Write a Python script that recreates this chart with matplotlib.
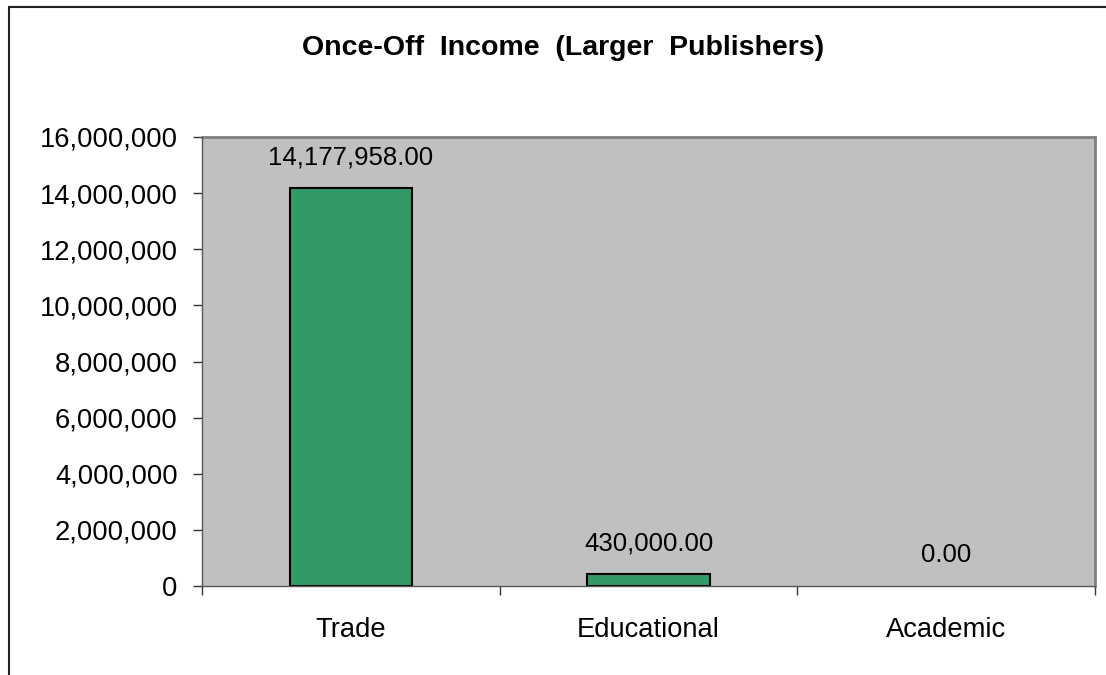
import numpy as np
import matplotlib.pyplot as plt
from matplotlib.patches import Rectangle
from matplotlib.ticker import FuncFormatter

plt.rcParams['font.family'] = ['Liberation Sans', 'DejaVu Sans']

categories = ['Trade', 'Educational', 'Academic']
income = [14177958.00, 430000.00, 0.00]
y_ticks = [0, 2000000, 4000000, 6000000, 8000000, 10000000, 12000000, 14000000, 16000000]

fig = plt.figure(figsize=(11.06, 6.75), dpi=100)
fig.patch.set_facecolor('white')

# chart border, clipped on the right and bottom
fig.add_artist(Rectangle((9 / 1106, -0.1), 1.2, 1.1 - 7.5 / 675, transform=fig.transFigure,
                         fill=False, edgecolor='#222222', linewidth=1.5))

ax = fig.add_axes([202 / 1106, 1 - 586 / 675, (1095 - 202) / 1106, (586 - 137) / 675])
ax.set_facecolor('#C0C0C0')

x = np.arange(len(categories))
bars = ax.bar(x, income, width=0.41, color='#339966', edgecolor='black', linewidth=1.5, zorder=2)
# empty bars leave no outline on the axis
for b, v in zip(bars, income):
    if v == 0:
        b.set_edgecolor('none')

for xi, v in zip(x, income):
    ax.annotate(f'{v:,.2f}', (xi, v), xytext=(0, 22), textcoords='offset points',
                ha='center', va='center', fontsize=18.5)

ax.set_xlim(-0.5, len(categories) - 0.5)
ax.set_ylim(0, 16000000)
ax.set_yticks(y_ticks)
ax.yaxis.set_major_formatter(FuncFormatter(lambda v, p: f'{v:,.0f}'))
ax.tick_params(axis='y', direction='out', length=6.5, width=1, pad=11, labelsize=19.7, color='#333333')

# category boundaries get the ticks, centres get the labels
ax.set_xticks(np.arange(-0.5, len(categories), 1.0))
ax.set_xticklabels([])
ax.set_xticks(x, minor=True)
ax.set_xticklabels(categories, minor=True)
ax.tick_params(axis='x', which='major', direction='out', length=6.5, width=1, color='#333333')
ax.tick_params(axis='x', which='minor', length=0, pad=22, labelsize=19.7)

for side in ['top', 'right']:
    ax.spines[side].set_color('#808080')
    ax.spines[side].set_linewidth(2)
for side in ['left', 'bottom']:
    ax.spines[side].set_color('#555555')
    ax.spines[side].set_linewidth(1)
    ax.spines[side].set_zorder(3)

fig.text(563 / 1106, 1 - 48 / 675, 'Once-Off  Income  (Larger  Publishers)', ha='center', va='center',
         fontsize=20.5, fontweight='bold')

fig.savefig('out.png', dpi=100)
